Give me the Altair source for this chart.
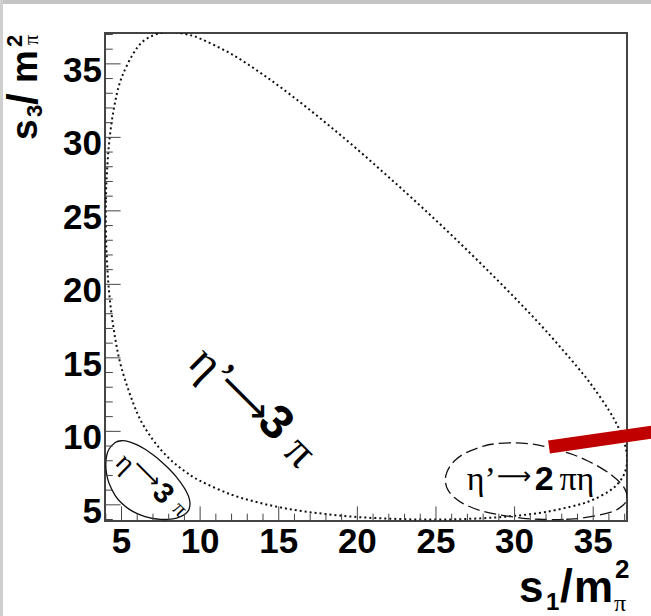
import altair as alt
import pandas as pd

# ---------------- data (in units of m_pi^2) -------------
# eta' -> 3pi boundary (dotted), upper branch then lower branch
ETAP3PI_S1 = [4.0, 4.01, 4.05, 4.2, 4.5, 5, 6, 7, 8, 9, 10, 12, 14, 16, 18, 20, 22, 24,
              26, 28, 30, 32, 34, 35, 36, 36.6, 37, 37.16,
              37, 36.6, 36, 35, 34, 32, 30, 28, 26, 24, 22, 20, 18, 16, 14, 12, 10, 9,
              8, 7, 6, 5, 4.5, 4.2, 4.05, 4.01]
ETAP3PI_S3 = [24.67, 25.79, 27.15, 29.48, 31.87, 34.04, 36.11, 36.93, 37.16, 37.04, 36.72,
              35.66, 34.27, 32.69, 30.98, 29.18, 27.29, 25.35, 23.34, 21.26, 19.10, 16.83,
              14.36, 13.00, 11.43, 10.27, 9.18, 8.10,
              7.17, 6.48, 5.92, 5.35, 4.99, 4.52, 4.25, 4.09, 4.01, 4.00, 4.06, 4.17, 4.37,
              4.65, 5.08, 5.69, 6.63, 7.30, 8.19, 9.42, 11.24, 14.31, 16.98, 19.60, 22.14,
              23.54]

# eta -> 3pi boundary (solid)
ETA3PI_S1 = [4.0, 4.05, 4.2, 4.6, 5, 5.5, 6, 6.5, 7, 7.5, 8, 8.5, 9, 9.2, 9.3, 9.357,
             9.3, 9.2, 9, 8.5, 8, 7.5, 7, 6.5, 6, 5.5, 5, 4.6, 4.2, 4.05]
ETA3PI_S3 = [7.74, 8.31, 8.78, 9.24, 9.36, 9.29, 9.08, 8.78, 8.40, 7.97, 7.47, 6.88, 6.14,
             5.74, 5.45, 5.06,
             4.72, 4.53, 4.33, 4.10, 4.01, 4.01, 4.07, 4.20, 4.40, 4.69, 5.12, 5.63, 6.49,
             7.12]

# eta' -> 2pi eta boundary (dashed)
ETAP2PIETA_S1 = [32.41, 33.29, 34.30, 36.13, 36.93, 37.16, 37.05, 36.72, 36.20, 35.51,
                 34.63, 33.49, 31.80, 30.92, 29.80, 28.75, 28.03, 26.83, 26.19, 25.82,
                 25.63, 25.61, 25.77, 26.17, 26.89, 28.20, 30.42, 31.52]
ETAP2PIETA_S3 = [4.0, 4.02, 4.1, 4.5, 5.0, 5.5, 6.0, 6.5, 7.0, 7.5, 8.0, 8.5, 9.0, 9.15,
                 9.222, 9.15, 9.0, 8.5, 8.0, 7.5, 7.0, 6.5, 6.0, 5.5, 5.0, 4.5, 4.1, 4.02]

TICK_LABELS = [5, 10, 15, 20, 25, 30, 35]
MINOR_TICKS = [v for v in range(4, 38) if v % 5 != 0]

# ---------------- chart -------------------------------------------------------------------
W, H = 522, 488
XS = alt.Scale(domain=[3.95, 37.15], nice=False, zero=False)
YS = alt.Scale(domain=[3.9, 37.1], nice=False, zero=False)
SANS = "Liberation Sans"
SERIF = "Liberation Serif"
ARROW = "DejaVu Sans"


def curve(s1, s3, **style):
    df = pd.DataFrame({"s1": s1, "s3": s3, "o": list(range(len(s1)))})
    return alt.Chart(df).mark_line(interpolate="cardinal-closed", clip=True, color="#111111",
                                   **style).encode(
        x=alt.X("s1:Q", scale=XS, axis=None),
        y=alt.Y("s3:Q", scale=YS, axis=None),
        order="o:Q",
    )


ONE = alt.Data(values=[{}])


def dtext(x, y, s, size, font=SERIF, weight="normal", angle=0, align="center",
          baseline="middle"):
    return alt.Chart(ONE).mark_text(text=s, fontSize=size, font=font, fontWeight=weight,
                                    angle=angle, align=align, baseline=baseline,
                                    color="black").encode(
        x=alt.XDatum(x, type="quantitative", scale=XS, axis=None),
        y=alt.YDatum(y, type="quantitative", scale=YS, axis=None),
    )


def ptext(x, y, s, size, font=SANS, weight="bold", angle=0, align="left",
          baseline="alphabetic"):
    return alt.Chart(ONE).mark_text(text=s, fontSize=size, font=font, fontWeight=weight,
                                    angle=angle, align=align, baseline=baseline,
                                    color="black").encode(
        x=alt.value(x), y=alt.value(y))


ticks_df = pd.DataFrame({"v": TICK_LABELS, "lab": [str(v) for v in TICK_LABELS]})
minor_df = pd.DataFrame({"v": MINOR_TICKS})

# inner ticks (ROOT style)
xt_major = alt.Chart(ticks_df).mark_rule(color="#444", strokeWidth=1).encode(
    x=alt.X("v:Q", scale=XS, axis=None), y=alt.value(H), y2=alt.value(H - 14.6))
xt_minor = alt.Chart(minor_df).mark_rule(color="#444", strokeWidth=1).encode(
    x=alt.X("v:Q", scale=XS, axis=None), y=alt.value(H), y2=alt.value(H - 7.3))
yt_major = alt.Chart(ticks_df).mark_rule(color="#444", strokeWidth=1).encode(
    y=alt.Y("v:Q", scale=YS, axis=None), x=alt.value(0), x2=alt.value(15.6))
yt_minor = alt.Chart(minor_df).mark_rule(color="#444", strokeWidth=1).encode(
    y=alt.Y("v:Q", scale=YS, axis=None), x=alt.value(0), x2=alt.value(7.8))

# tick labels
x_labels = alt.Chart(ticks_df).mark_text(font=SANS, fontWeight="bold", fontSize=35,
                                         align="center", baseline="alphabetic",
                                         color="black").encode(
    x=alt.X("v:Q", scale=XS, axis=None), y=alt.value(H + 32), text="lab:N")
y_labels = alt.Chart(ticks_df).mark_text(font=SANS, fontWeight="bold", fontSize=35,
                                         align="right", baseline="alphabetic", dy=18,
                                         color="black").encode(
    y=alt.Y("v:Q", scale=YS, axis=None), x=alt.value(-3), text="lab:N")

c_main = curve(ETAP3PI_S1, ETAP3PI_S3, strokeDash=[2, 3], strokeWidth=2)
c_eta = curve(ETA3PI_S1, ETA3PI_S3, strokeWidth=1.3)
c_2pieta = curve(ETAP2PIETA_S1, ETAP2PIETA_S3, strokeDash=[12, 5], strokeWidth=1.3)

# annotations
ann = [
    # eta' -> 3pi (rotated)
    dtext(10.70, 14.21, "η’", 48, angle=45),
    dtext(12.80, 12.24, "⟶", 40, font=ARROW, angle=45),
    dtext(14.77, 10.53, "3", 48, font=SANS, weight="bold", angle=45),
    dtext(16.36, 8.60, "π", 46, angle=45),
    # eta -> 3pi (rotated, small)
    dtext(5.22, 7.81, "η", 28, angle=45),
    dtext(6.62, 7.13, "⟶", 22, font=ARROW, angle=45),
    dtext(7.64, 5.77, "3", 29, font=SANS, weight="bold", angle=45),
    dtext(8.72, 4.74, "π", 22, angle=45),
    # eta' -> 2pi eta
    dtext(27.88, 6.04, "η’", 34, baseline="alphabetic"),
    dtext(29.98, 6.89, "⟶", 24, font=ARROW),
    dtext(31.89, 6.04, "2", 34, font=SANS, weight="bold", baseline="alphabetic"),
    dtext(33.96, 6.04, "πη", 34, baseline="alphabetic"),
]

# axis titles (built from pieces for sub/superscripts)
titles = [
    ptext(414, 569, "s", 44),
    ptext(441, 577, "1", 24),
    ptext(455, 569, "/", 46),
    ptext(469, 569, "m", 44),
    ptext(510, 545, "2", 26),
    ptext(509, 578, "π", 24, font=SERIF, weight="normal"),
    ptext(-68, 107, "s", 37, angle=270),
    ptext(-63, 84, "3", 22, angle=270),
    ptext(-68, 72, "/", 42, angle=270),
    ptext(-68, 50, "m", 37, angle=270),
    ptext(-83, 14, "2", 22, angle=270),
    ptext(-67, 12, "π", 20, font=SERIF, weight="normal", angle=270),
]

# slide decorations: gray strip at top/left and red pointer bar
strip_top = alt.Chart(ONE).mark_rect(color="#c4c4c4").encode(
    x=alt.value(-105), x2=alt.value(546), y=alt.value(-33), y2=alt.value(-29))
strip_left = alt.Chart(ONE).mark_rect(color="#cfcfcf").encode(
    x=alt.value(-105), x2=alt.value(-102), y=alt.value(-33), y2=alt.value(583))
red_bar = alt.Chart(ONE).mark_rule(color="#c00000", strokeWidth=13).encode(
    x=alt.value(444), y=alt.value(414), x2=alt.value(562), y2=alt.value(397))

chart = alt.layer(
    c_main, c_eta, c_2pieta, xt_major, xt_minor, yt_major, yt_minor, x_labels, y_labels,
    *ann, *titles, strip_top, strip_left, red_bar,
).properties(
    width=W, height=H,
    autosize=alt.AutoSizeParams(type="none"),
    padding={"left": 105, "top": 33, "right": 24, "bottom": 95},
    background="white",
).configure_view(stroke="#444", strokeWidth=2)

chart.save("out.html", embed_options={"renderer": "svg", "actions": False})
